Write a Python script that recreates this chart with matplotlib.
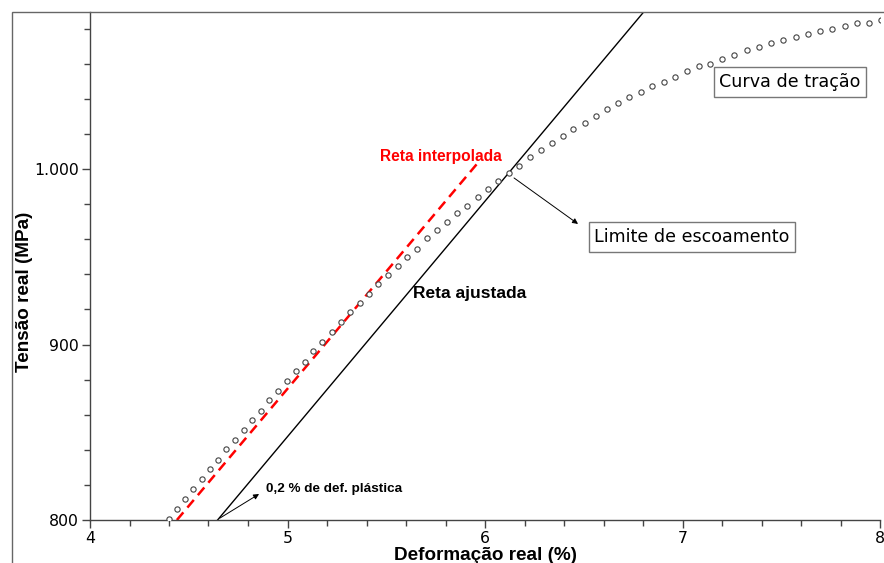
import matplotlib

matplotlib.use("Agg")
import matplotlib.pyplot as plt
from matplotlib.patches import Rectangle
from matplotlib.ticker import FixedLocator, MultipleLocator

# --------------------------------------------------------------------------- #
# Data
# --------------------------------------------------------------------------- #
# tensile curve markers: true strain (%) and true stress (MPa)
curve_strain = [
    4.401, 4.442, 4.481, 4.523, 4.567, 4.606, 4.648, 4.690, 4.734, 4.780,
    4.822, 4.866, 4.906, 4.952, 4.996, 5.041, 5.089, 5.131, 5.176, 5.224,
    5.269, 5.318, 5.365, 5.413, 5.460, 5.510, 5.558, 5.605, 5.654, 5.705,
    5.759, 5.809, 5.860, 5.910, 5.965, 6.015, 6.067, 6.120, 6.172, 6.226,
    6.284, 6.338, 6.393, 6.448, 6.504, 6.560, 6.618, 6.673, 6.731, 6.788,
    6.847, 6.905, 6.964, 7.021, 7.082, 7.141, 7.202, 7.262, 7.325, 7.387,
    7.450, 7.511, 7.575, 7.635, 7.696, 7.758, 7.821, 7.884, 7.944, 8.005,
]
curve_stress = [
    800.4, 806.4, 812.0, 817.7, 823.2, 828.9, 834.4, 840.3, 845.6, 851.1,
    857.1, 862.3, 868.4, 873.7, 879.3, 885.1, 890.0, 896.5, 901.2, 907.0,
    912.6, 918.5, 923.6, 928.6, 934.3, 939.6, 944.6, 949.7, 954.4, 960.7,
    965.2, 970.0, 974.8, 979.1, 983.9, 988.6, 993.2, 997.9, 1001.9, 1006.7,
    1010.8, 1014.7, 1018.8, 1022.6, 1026.4, 1030.4, 1034.0, 1037.4, 1041.0, 1044.0,
    1047.1, 1049.8, 1052.4, 1055.7, 1058.7, 1060.0, 1062.5, 1065.2, 1067.7, 1069.4,
    1072.0, 1073.6, 1075.2, 1077.0, 1078.6, 1079.9, 1081.5, 1083.0, 1083.0, 1084.9,
]

# interpolated elastic line (red dashed)
interp_strain = [4.44, 5.96]
interp_stress = [800.0, 1003.0]

# fitted line shifted by 0.2 % plastic strain (black)
fit_strain = [4.646, 6.80]
fit_stress = [800.0, 1089.0]

x_ticks = [4, 5, 6, 7, 8]
x_tick_labels = ["4", "5", "6", "7", "8"]
y_ticks = [800, 900, 1000]
y_tick_labels = ["800", "900", "1.000"]

# --------------------------------------------------------------------------- #
# Figure
# --------------------------------------------------------------------------- #
W, H = 884, 563
fig = plt.figure(figsize=(W / 100, H / 100), dpi=100)
ax = fig.add_axes([90 / W, (H - 520) / H, (880 - 90) / W, (520 - 12) / H])

AXIS_COLOR = "#444444"
TICK_FONT = "DejaVu Sans"
LABEL_FONT = "Liberation Sans"

# outer frame around the whole chart (cropped on the right and bottom)
fig.patches.append(
    Rectangle((12 / W, -0.2), 1.2, 1 - 12 / H + 0.2, transform=fig.transFigure,
              fill=False, edgecolor="#666666", linewidth=1.0, zorder=0)
)

ax.plot(curve_strain, curve_stress, linestyle="none", marker="o",
        markersize=3.8, markerfacecolor="white", markeredgecolor="#444444",
        markeredgewidth=0.8, zorder=3)
ax.plot(interp_strain, interp_stress, color="#ff0000", linestyle=(0, (4, 2.5)),
        linewidth=1.8, zorder=2)
ax.plot(fit_strain, fit_stress, color="black", linewidth=1.0, zorder=2)

ax.set_xlim(4, 8)
ax.set_ylim(800, 800 + 508 / 1.755)

ax.xaxis.set_major_locator(FixedLocator(x_ticks))
ax.set_xticklabels(x_tick_labels)
ax.yaxis.set_major_locator(FixedLocator(y_ticks))
ax.set_yticklabels(y_tick_labels)
ax.xaxis.set_minor_locator(MultipleLocator(0.2))
ax.yaxis.set_minor_locator(MultipleLocator(20))

ax.tick_params(axis="both", which="major", length=6, width=1.0, color=AXIS_COLOR,
               labelsize=11.3, pad=2)
ax.tick_params(axis="both", which="minor", length=4, width=1.0, color=AXIS_COLOR)
for lbl in ax.get_xticklabels() + ax.get_yticklabels():
    lbl.set_fontfamily(TICK_FONT)

for side in ("top", "right"):
    ax.spines[side].set_visible(False)
for side in ("left", "bottom"):
    ax.spines[side].set_color(AXIS_COLOR)
    ax.spines[side].set_linewidth(1.0)

ax.set_xlabel("Deformação real (%)", fontfamily=LABEL_FONT, fontweight="bold",
              fontsize=13.6)
ax.set_ylabel("Tensão real (MPa)", fontfamily=LABEL_FONT, fontweight="bold",
              fontsize=13.6)
ax.xaxis.set_label_coords(0.5, -35 / 508, transform=ax.transAxes)
ax.yaxis.set_label_coords(-65 / 790, 0.449)
ax.xaxis.label.set_va("center")
ax.yaxis.label.set_va("center")

# --- Annotations ---
ax.text(5.777, 1007.4, "Reta interpolada", color="#ff0000", fontfamily=LABEL_FONT,
        fontweight="bold", fontsize=11.2, ha="center", va="center")
ax.text(5.924, 929.3, "Reta ajustada", color="black", fontfamily=LABEL_FONT,
        fontweight="bold", fontsize=12.5, ha="center", va="center")
ax.text(4.891, 817.7, "0,2 % de def. plástica", color="black", fontfamily=LABEL_FONT,
        fontweight="bold", fontsize=9.7, ha="left", va="center")
ax.annotate("", xy=(4.856, 814.8), xytext=(4.658, 801.1),
            arrowprops=dict(arrowstyle="-|>", color="black", lw=0.7,
                            mutation_scale=8, shrinkA=0, shrinkB=0))
ax.annotate("", xy=(6.471, 968.7), xytext=(6.147, 994.9),
            arrowprops=dict(arrowstyle="-|>", color="black", lw=0.7,
                            mutation_scale=8, shrinkA=0, shrinkB=0))

box = dict(boxstyle="square,pad=0.32", facecolor="white", edgecolor="#777777",
           linewidth=1.0)
ax.text(7.048, 961.3, "Limite de escoamento", fontfamily=TICK_FONT, fontsize=12.6,
        ha="center", va="center", bbox=box)
ax.text(7.544, 1049.6, "Curva de tração", fontfamily=TICK_FONT, fontsize=12.6,
        ha="center", va="center", bbox=box, zorder=4)

fig.savefig("out.png", dpi=100)
